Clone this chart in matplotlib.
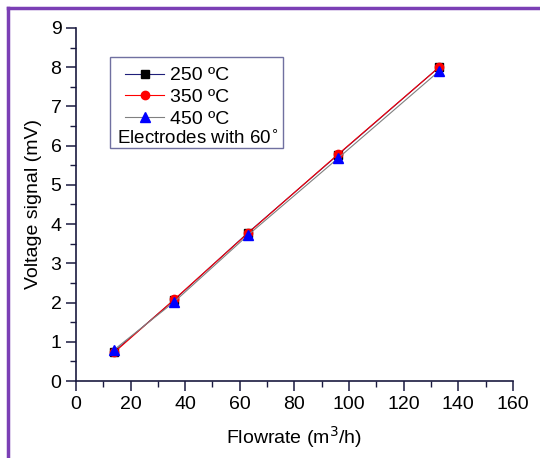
import matplotlib.pyplot as plt
from matplotlib.lines import Line2D
from matplotlib.patches import Rectangle
from matplotlib.ticker import MultipleLocator

plt.rcParams['font.family'] = ['Liberation Sans', 'DejaVu Sans']

flow = [14, 36, 63, 96, 133]
v250 = [0.75, 2.07, 3.78, 5.77, 8.00]
v350 = [0.73, 2.08, 3.77, 5.78, 8.00]
v450 = [0.80, 2.02, 3.72, 5.68, 7.90]
labels = ['250 ºC', '350 ºC', '450 ºC']

fig = plt.figure(figsize=(5.4, 4.58), dpi=100)
ax = fig.add_axes([0.1407, 0.168, 0.809, 0.771])

ax.plot(flow, v250, color='#1f1f7a', lw=0.8, marker='s', ms=6, mfc='black', mec='black', label=labels[0])
ax.plot(flow, v350, color='red', lw=0.8, marker='o', ms=6, mfc='red', mec='red', label=labels[1])
ax.plot(flow, v450, color='#808080', lw=0.8, marker='^', ms=7, mfc='blue', mec='blue', label=labels[2])

ax.set_xlim(0, 160)
ax.set_ylim(0, 9)
ax.xaxis.set_major_locator(MultipleLocator(20))
ax.xaxis.set_minor_locator(MultipleLocator(10))
ax.yaxis.set_major_locator(MultipleLocator(1))
ax.yaxis.set_minor_locator(MultipleLocator(0.5))
ax.spines['top'].set_visible(False)
ax.spines['right'].set_visible(False)
for s in ['left', 'bottom']:
    ax.spines[s].set_color('#1a1a40')
    ax.spines[s].set_linewidth(1.2)
ax.tick_params(which='major', direction='out', length=7, width=1.1, labelsize=14, color='#1a1a40')
ax.tick_params(which='minor', direction='out', length=4, width=1.0, color='#1a1a40')

ax.set_xlabel('Flowrate (m$^3$/h)', fontsize=14, labelpad=8)
ax.set_ylabel('Voltage signal (mV)', fontsize=14, labelpad=6)

# legend box with extra text line
handles = [Line2D([], [], color='#1f1f7a', lw=0.8, marker='s', ms=6, mfc='black', mec='black'),
           Line2D([], [], color='red', lw=0.8, marker='o', ms=6, mfc='red', mec='red'),
           Line2D([], [], color='#808080', lw=0.8, marker='^', ms=7, mfc='blue', mec='blue')]
leg = ax.legend(handles, labels, loc='upper left', bbox_to_anchor=(0.095, 0.912),
                frameon=False, fontsize=14, handlelength=2.0, handletextpad=0.3,
                labelspacing=0.22, borderaxespad=0)
ax.add_patch(Rectangle((0.078, 0.66), 0.396, 0.258, transform=ax.transAxes,
                       fill=False, ec='#7070a0', lw=1.0, zorder=5))
ax.text(0.095, 0.688, 'Electrodes with 60$^{\\circ}$', transform=ax.transAxes,
        fontsize=13.5, va='center', ha='left')

# purple frame
fig.add_artist(Line2D([8/540, 8/540], [0, 1 - 8/458], color='#7b3fb5', lw=2.5))
fig.add_artist(Line2D([8/540, 1], [1 - 8/458, 1 - 8/458], color='#7b3fb5', lw=2.5))

fig.savefig('out.png', dpi=100)
